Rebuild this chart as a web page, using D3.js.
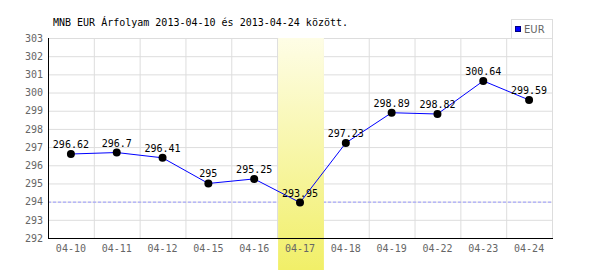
<!DOCTYPE html>
<html>
<head>
<meta charset="utf-8">
<script src="https://cdn.jsdelivr.net/npm/d3@7"></script>
<style>
  body { margin: 0; background: #fff; }
  text { font-family: "DejaVu Sans Mono", monospace; }
</style>
</head>
<body>
<svg width="600" height="270"></svg>
<script>
// adatok
const dates = ['04-10', '04-11', '04-12', '04-15', '04-16', '04-17', '04-18', '04-19', '04-22', '04-23', '04-24'];
const rates = [296.62, 296.7, 296.41, 295, 295.25, 293.95, 297.23, 298.89, 298.82, 300.64, 299.59];
const yTicks = [292, 293, 294, 295, 296, 297, 298, 299, 300, 301, 302, 303];
const minDate = '04-17';
const minLine = 294;

const svg = d3.select('svg');
const margin = { top: 38, right: 48, bottom: 32, left: 48 };
const width = 600 - margin.left - margin.right;
const height = 270 - margin.top - margin.bottom;

const defs = svg.append('defs');
const grad = defs.append('linearGradient')
  .attr('id', 'hl').attr('x1', 0).attr('y1', 0).attr('x2', 0).attr('y2', 1);
grad.append('stop').attr('offset', '0%').attr('stop-color', '#fefde6');
grad.append('stop').attr('offset', '100%').attr('stop-color', '#f1ef68');

const g = svg.append('g')
  .attr('transform', `translate(${margin.left},${margin.top})`);

const x = d3.scaleBand().domain(dates).range([0, width]);
const y = d3.scaleLinear().domain([292, 303]).range([height, 0]);

// rács
g.append('g')
  .selectAll('line')
  .data(yTicks)
  .enter().append('line')
  .attr('x1', 0).attr('x2', width)
  .attr('y1', d => y(d) + 0.5).attr('y2', d => y(d) + 0.5)
  .attr('stroke', '#dddddd');

g.append('g')
  .selectAll('line')
  .data(dates.slice(1).concat(['end']))
  .enter().append('line')
  .attr('x1', d => d === 'end' ? width + 0.5 : x(d) + 0.5)
  .attr('x2', d => d === 'end' ? width + 0.5 : x(d) + 0.5)
  .attr('y1', 0).attr('y2', height)
  .attr('stroke', '#dddddd');

// minimum vonal
g.append('line')
  .attr('x1', 0).attr('x2', width)
  .attr('y1', y(minLine) + 0.5).attr('y2', y(minLine) + 0.5)
  .attr('stroke', '#9999ff')
  .attr('stroke-dasharray', '3,2');

// kiemelt nap
g.append('rect')
  .attr('x', x(minDate) + 1)
  .attr('y', 0)
  .attr('width', x.bandwidth())
  .attr('height', 270 - margin.top)
  .attr('fill', 'url(#hl)');

// tengelyek
g.append('line')
  .attr('x1', 0.5).attr('x2', 0.5).attr('y1', 0).attr('y2', height)
  .attr('stroke', '#000');
g.append('line')
  .attr('x1', 0).attr('x2', width + 1).attr('y1', height + 0.5).attr('y2', height + 0.5)
  .attr('stroke', '#000');

const yAxis = g.append('g')
  .call(d3.axisLeft(y).tickValues(yTicks).tickSize(0).tickPadding(5).tickFormat(d3.format('d')));
yAxis.select('.domain').remove();
yAxis.selectAll('text')
  .attr('fill', '#666')
  .style('font-size', '10px')
  .style('font-family', '"DejaVu Sans Mono", monospace');

const xAxis = g.append('g')
  .attr('transform', `translate(0,${height})`)
  .call(d3.axisBottom(x).tickSize(0).tickPadding(7));
xAxis.select('.domain').remove();
xAxis.selectAll('text')
  .attr('fill', '#666')
  .style('font-size', '10px')
  .style('font-family', '"DejaVu Sans Mono", monospace');

// vonal
const cx = d => x(d) + x.bandwidth() / 2;
const line = d3.line()
  .x((d, i) => cx(dates[i]))
  .y(d => y(d));

g.append('path')
  .datum(rates)
  .attr('d', line)
  .attr('fill', 'none')
  .attr('stroke', '#0000ff')
  .attr('stroke-width', 1);

g.append('g')
  .selectAll('circle')
  .data(rates)
  .enter().append('circle')
  .attr('cx', (d, i) => cx(dates[i]))
  .attr('cy', d => y(d))
  .attr('r', 4)
  .attr('fill', '#000');

g.append('g')
  .selectAll('text')
  .data(rates)
  .enter().append('text')
  .attr('x', (d, i) => cx(dates[i]))
  .attr('y', d => y(d) - 6)
  .attr('text-anchor', 'middle')
  .style('font-size', '10px')
  .attr('fill', '#000')
  .text(d => d);

// cím
svg.append('text')
  .attr('x', 53).attr('y', 26)
  .style('font-size', '10px')
  .attr('fill', '#000')
  .text('MNB EUR Árfolyam 2013-04-10 és 2013-04-24 között.');

// jelmagyarázat
const lg = svg.append('g').attr('transform', 'translate(511,19)');
lg.append('rect')
  .attr('x', 0.5).attr('y', 0.5).attr('width', 41).attr('height', 19)
  .attr('fill', '#fff').attr('stroke', '#dddddd');
lg.append('rect')
  .attr('x', 4.5).attr('y', 7.5).attr('width', 5).attr('height', 5)
  .attr('fill', '#0000ff').attr('stroke', '#000080');
lg.append('text')
  .attr('x', 13).attr('y', 14)
  .attr('fill', '#666')
  .style('font-size', '10px')
  .style('font-family', '"DejaVu Sans", sans-serif')
  .text('EUR');
</script>
</body>
</html>
